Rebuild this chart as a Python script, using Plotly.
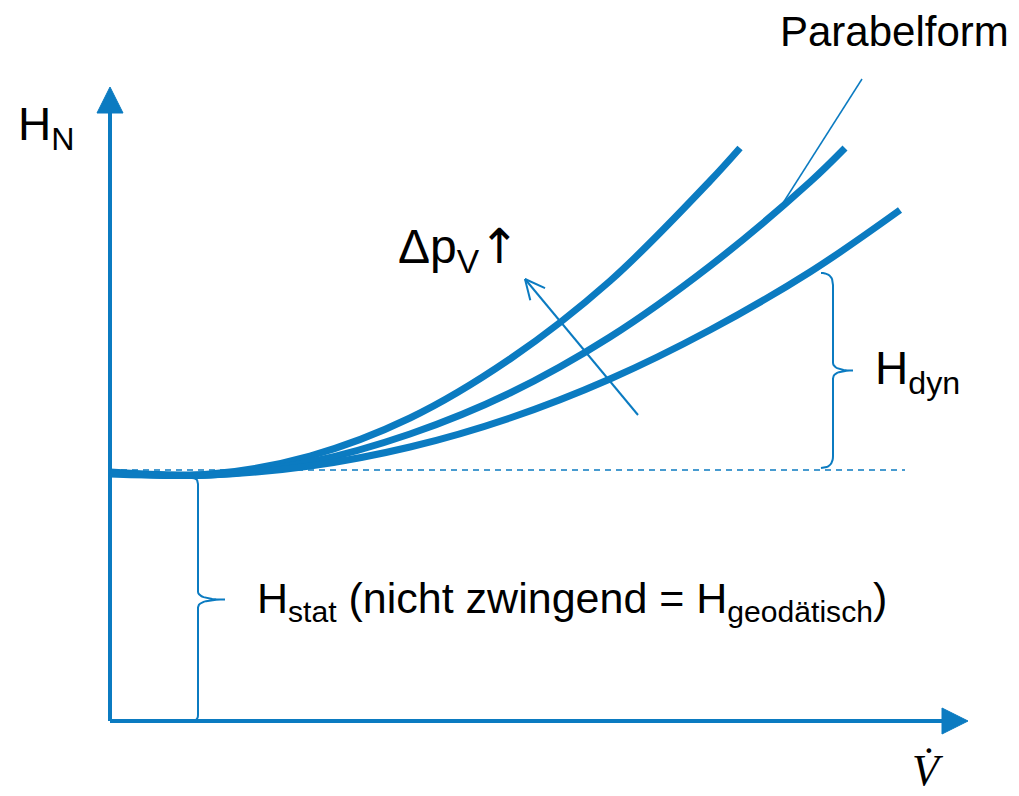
import numpy as np
import plotly.graph_objects as go

# ---- data (diagram units: origin at the axis corner) ----
V = [0, 100, 200, 300, 400, 500, 600, 630]
H_curve1 = [249, 247, 265, 303, 362, 440, 540, 573]
V2 = [0, 100, 200, 300, 400, 500, 600, 700, 735]
H_curve2 = [248, 246, 259, 287, 328, 384, 455, 539, 573]
V3 = [0, 100, 200, 300, 400, 500, 600, 700, 790]
H_curve3 = [247, 246, 255, 274, 303, 342, 391, 449, 511]
H_STAT_LINE = 251
V_DASH_END = 795
H_DYN_V = 723
H_DYN_TOP = 448
H_DYN_BOTTOM = 253
H_STAT_V = 88
H_STAT_TOP = 243

BLUE = "#0b7bc1"
FONT = "Liberation Sans, Arial, sans-serif"

fig = go.Figure()

def line(xs, ys, w, dash=None, color=BLUE):
    fig.add_trace(go.Scatter(x=xs, y=ys, mode="lines",
                             line=dict(color=color, width=w, dash=dash),
                             hoverinfo="skip", showlegend=False))

# axes
line([0, 0], [0, 612], 4)
line([0, 833], [0, 0], 4)
fig.add_trace(go.Scatter(x=[-13, 13, 0, -13], y=[608, 608, 634, 608], fill="toself",
                         fillcolor=BLUE, mode="lines", line=dict(color=BLUE, width=1),
                         hoverinfo="skip", showlegend=False))
fig.add_trace(go.Scatter(x=[832, 832, 858, 832], y=[13, -13, 0, 13], fill="toself",
                         fillcolor=BLUE, mode="lines", line=dict(color=BLUE, width=1),
                         hoverinfo="skip", showlegend=False))

# dashed static level
line([0, V_DASH_END], [H_STAT_LINE, H_STAT_LINE], 1.5, dash="6px,5px")

# system curves
for vx, hy in [(V, H_curve1), (V2, H_curve2), (V3, H_curve3)]:
    fig.add_trace(go.Scatter(x=vx, y=hy, mode="lines",
                             line=dict(color=BLUE, width=7, shape="spline", smoothing=1.0),
                             hoverinfo="skip", showlegend=False))

# curly braces
def brace(x, y0, y1, tip, hook):
    ym = (y0 + y1) / 2
    t = np.linspace(0, 1, 12)
    pts_x, pts_y = [], []
    def qb(p0, p1, p2):
        bx = (1 - t) ** 2 * p0[0] + 2 * (1 - t) * t * p1[0] + t ** 2 * p2[0]
        by = (1 - t) ** 2 * p0[1] + 2 * (1 - t) * t * p1[1] + t ** 2 * p2[1]
        pts_x.extend(bx); pts_y.extend(by)
    qb((x - hook, y0), (x, y0), (x, y0 + hook))
    qb((x, ym - 8), (x, ym), (x + tip, ym))
    qb((x + tip, ym), (x, ym), (x, ym + 8))
    qb((x, y1 - hook), (x, y1), (x - hook, y1))
    line(pts_x, pts_y, 2)

brace(H_DYN_V, H_DYN_BOTTOM, H_DYN_TOP, 20, 12)
brace(H_STAT_V, 0, H_STAT_TOP, 27, 6)

# delta p arrow
tail = np.array([528.0, 306.0])
head = np.array([415.0, 442.0])
line([tail[0], head[0]], [tail[1], head[1]], 2)
d = (tail - head) / np.linalg.norm(tail - head)
for ang in (0.45, -0.45):
    c, s = np.cos(ang), np.sin(ang)
    r = np.array([c * d[0] - s * d[1], s * d[0] + c * d[1]]) * 22
    line([head[0], head[0] + r[0]], [head[1], head[1] + r[1]], 2)

# Parabelform pointer
line([673, 752], [518, 642], 1.5)

def txt(x, y, s, size=44, xanchor="left", yanchor="middle", family=FONT):
    fig.add_annotation(x=x, y=y, text=s, showarrow=False, xanchor=xanchor, yanchor=yanchor,
                       font=dict(family=family, size=size, color="black"))

txt(-94, 594, "H<sub>N</sub>", size=46)
txt(668, 690, "Parabelform", size=42)
txt(286, 472, "Δp<sub>V</sub><span style='font-family:DejaVu Sans'>↑</span>", size=48)
txt(763, 350, "H<sub>dyn</sub>", size=46)
txt(145, 120, "H<sub>stat</sub> (nicht zwingend = H<sub>geodätisch</sub>)", size=43)
txt(818, -49, "<i>V\u0307</i>", size=44, xanchor="center", family="Liberation Serif, DejaVu Serif, serif")

# page body has an 8px margin: size the figure so diagram units stay aligned
fig.update_layout(
    width=1011, height=788,
    margin=dict(l=0, r=0, t=0, b=0),
    paper_bgcolor="white", plot_bgcolor="white",
    xaxis=dict(range=[-102, 909], visible=False, fixedrange=True),
    yaxis=dict(range=[-75, 713], visible=False, fixedrange=True),
)
fig.write_html("out.html")
